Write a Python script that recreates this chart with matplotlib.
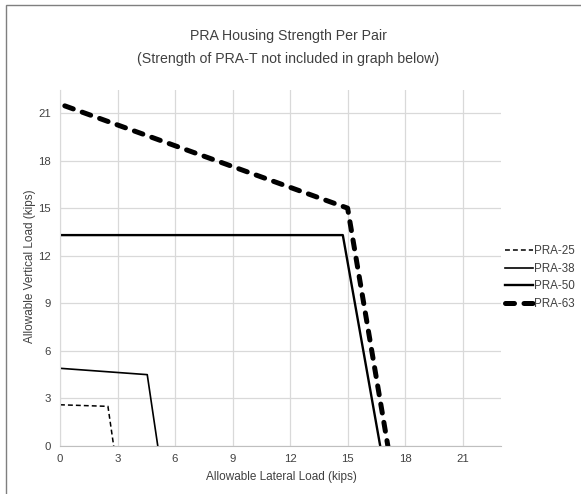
import matplotlib
matplotlib.use("Agg")
import matplotlib.pyplot as plt
from matplotlib.patches import Rectangle

plt.rcParams['font.family'] = ['Liberation Sans', 'DejaVu Sans']

# Data (kips)
series_names = ["PRA-25", "PRA-38", "PRA-50", "PRA-63"]
pra25_x = [0, 2.5, 2.8]
pra25_y = [2.6, 2.5, 0]
pra38_x = [0, 4.55, 5.1]
pra38_y = [4.9, 4.5, 0]
pra50_x = [0, 14.75, 16.7]
pra50_y = [13.3, 13.3, 0]
pra63_x = [0.25, 15.0, 17.1]
pra63_y = [21.45, 15.0, 0]
x_ticks = [0, 3, 6, 9, 12, 15, 18, 21]
y_ticks = [0, 3, 6, 9, 12, 15, 18, 21]

W, H = 581, 494
fig = plt.figure(figsize=(W / 100, H / 100), dpi=100)
ax = fig.add_axes([60 / W, 1 - 446 / H, (501 - 60) / W, (446 - 90) / H])

ax.plot(pra25_x, pra25_y, color='black', lw=1.1, dashes=(3.2, 2.0), label=series_names[0])
ax.plot(pra38_x, pra38_y, color='black', lw=1.2, label=series_names[1])
ax.plot(pra50_x, pra50_y, color='black', lw=1.7, label=series_names[2])
ax.plot(pra63_x, pra63_y, color='black', lw=3.6, dashes=(1.8, 1.9),
        dash_capstyle='round', solid_joinstyle='miter', label=series_names[3])

ax.set_xlim(0, 23)
ax.set_ylim(0, 22.45)
ax.set_xticks(x_ticks)
ax.set_yticks(y_ticks)
ax.tick_params(axis='both', length=0, labelsize=8.2, colors='#404040')
ax.tick_params(axis='x', pad=6)
ax.tick_params(axis='y', pad=6.5)
ax.grid(True, color='#d9d9d9', lw=0.9)
ax.set_axisbelow(True)
for s in ['top', 'right']:
    ax.spines[s].set_visible(False)
ax.spines['left'].set_color('#d9d9d9')
ax.spines['bottom'].set_color('#bfbfbf')

fig.text(30 / W, 1 - 266 / H, "Allowable Vertical Load (kips)", rotation=90,
         ha='center', va='center', fontsize=8.5, color='#404040')
fig.text(281 / W, 1 - 477 / H, "Allowable Lateral Load (kips)",
         ha='center', va='center', fontsize=8.5, color='#404040')

fig.text(288 / W, 1 - 36 / H, "PRA Housing Strength Per Pair",
         ha='center', va='center', fontsize=10.2, color='#404040')
fig.text(288 / W, 1 - 59 / H, "(Strength of PRA-T not included in graph below)",
         ha='center', va='center', fontsize=10.2, color='#404040')

leg = fig.legend(loc='center left', bbox_to_anchor=(505 / W, 1 - 277.5 / H),
                 frameon=False, fontsize=8.4, handlelength=2.4, handletextpad=0.05,
                 labelspacing=0.48, borderpad=0, borderaxespad=0)
for t in leg.get_texts():
    t.set_color('#404040')

fig.add_artist(Rectangle((5.5 / W, -0.1), 1.2, 1 - 5.5 / H + 0.1, transform=fig.transFigure,
                         fill=False, edgecolor='#7f7f7f', lw=1.0))

fig.savefig("out.png", dpi=100)
